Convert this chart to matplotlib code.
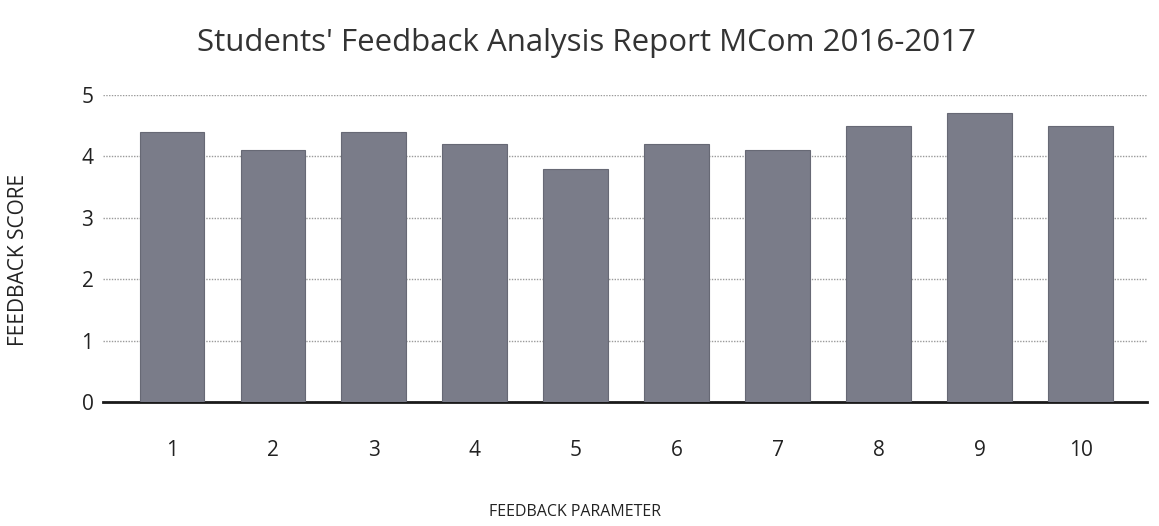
import matplotlib
matplotlib.use("Agg")
import matplotlib.pyplot as plt

# -- Data ----------------------------------------------------------------------
PARAMS = ["1", "2", "3", "4", "5", "6", "7", "8", "9", "10"]
SCORES = [4.4, 4.1, 4.4, 4.2, 3.8, 4.2, 4.1, 4.5, 4.7, 4.5]
Y_TICKS = [0, 1, 2, 3, 4, 5]

# -- Plot ----------------------------------------------------------------------
fig = plt.figure(figsize=(11.59, 5.26), dpi=100)
ax = fig.add_axes([0.089, 0.2357, 0.901, 0.5837])

x = range(len(PARAMS))
ax.bar(x, SCORES, width=0.64, color="#7a7c89", edgecolor="#676975",
       linewidth=0.8, zorder=3)

ax.set_xlim(-0.68, len(PARAMS) - 1 + 0.66)
ax.set_ylim(0, 5)
ax.set_yticks(Y_TICKS)
ax.set_xticks(list(x))
ax.set_xticklabels(PARAMS)

ax.yaxis.grid(True, color="#9a9a9a", linestyle=(0, (1, 1)), linewidth=1.0, zorder=0)
ax.set_axisbelow(True)
for side in ["top", "right", "left"]:
    ax.spines[side].set_visible(False)
ax.spines["bottom"].set_color("#1a1a1a")
ax.spines["bottom"].set_linewidth(2)
ax.tick_params(axis="both", length=0, labelsize=15, colors="#222222")
ax.tick_params(axis="x", pad=27)
ax.tick_params(axis="y", pad=7)
for lbl in ax.get_xticklabels() + ax.get_yticklabels():
    lbl.set_family("Open Sans")

fig.text(0.506, 0.918, "Students' Feedback Analysis Report MCom 2016-2017",
         ha="center", va="center", fontsize=22.5, family="Open Sans", color="#333333")
fig.text(0.496, 0.027, "FEEDBACK PARAMETER", ha="center", va="center",
         fontsize=11.5, family="Open Sans", color="#222222")
fig.text(0.016, 0.505, "FEEDBACK SCORE", ha="center", va="center", rotation=90,
         fontsize=15, family="Open Sans", color="#222222")

fig.savefig("out.png", dpi=100)
